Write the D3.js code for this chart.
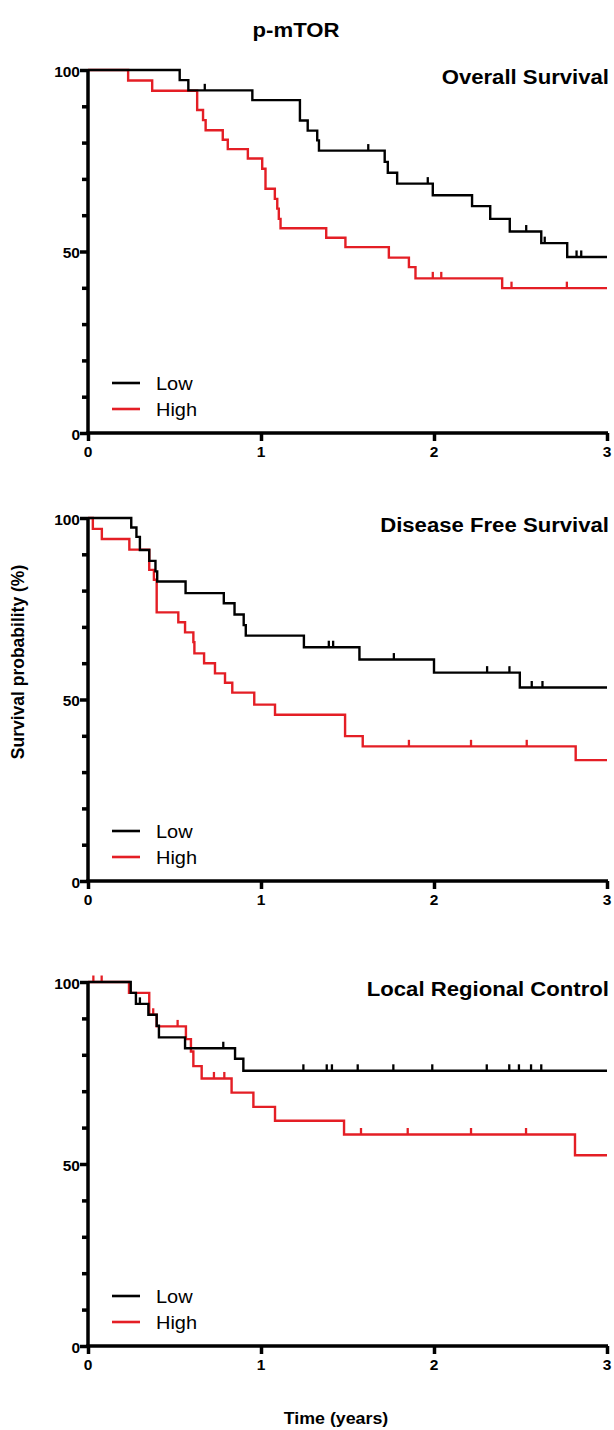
<!DOCTYPE html>
<html><head><meta charset="utf-8">
<script src="https://cdn.jsdelivr.net/npm/d3@7"></script>
<style>body{margin:0;background:#fff}svg{display:block}</style>
</head><body><svg id="c" width="614" height="1430"></svg>
<script>
// ---------- data ----------
const chartTitle = "p-mTOR";
const panelTitles = ["Overall Survival", "Disease Free Survival", "Local Regional Control"];
const groupNames = ["Low", "High"];
const xTickValues = [0, 1, 2, 3];
const yLabelTicks = [0, 50, 100];
const yAllTicks = [0, 10, 20, 30, 40, 50, 60, 70, 80, 90, 100];

// Overall survival
const osLowTime  = [0, 0.53, 0.58, 0.95, 1.225, 1.27, 1.325, 1.335, 1.715, 1.733, 1.787, 1.993, 2.22, 2.325, 2.438, 2.62, 2.77];
const osLowSurv  = [100, 97.2, 94.4, 91.7, 86.1, 83.3, 80.6, 77.8, 74.7, 71.7, 68.7, 65.5, 62.5, 59.0, 55.5, 52.3, 48.5];
const osLowCens  = [0.675, 1.62, 1.964, 2.533, 2.64, 2.824, 2.851];
const osHighTime = [0, 0.232, 0.371, 0.631, 0.665, 0.68, 0.779, 0.808, 0.924, 1.007, 1.026, 1.08, 1.094, 1.103, 1.113, 1.377, 1.488, 1.739, 1.855, 1.893, 2.394];
const osHighSurv = [100, 97.1, 94.3, 89.0, 86.2, 83.4, 80.8, 78.2, 75.6, 72.8, 67.3, 64.5, 61.8, 59.0, 56.4, 53.8, 51.2, 48.3, 45.7, 42.6, 39.9];
const osHighCens = [1.993, 2.042, 2.448, 2.768];

// Disease free survival
const dfsLowTime  = [0, 0.25, 0.28, 0.30, 0.354, 0.39, 0.40, 0.564, 0.785, 0.847, 0.90, 0.912, 1.248, 1.569, 2.0, 2.496];
const dfsLowSurv  = [100, 97.4, 94.8, 91.2, 88.2, 85.3, 82.5, 79.3, 76.5, 73.4, 70.5, 67.6, 64.4, 61.0, 57.4, 53.3];
const dfsLowCens  = [1.392, 1.417, 1.768, 2.307, 2.436, 2.565, 2.627];
const dfsHighTime = [0, 0.028, 0.08, 0.239, 0.354, 0.381, 0.397, 0.522, 0.561, 0.609, 0.615, 0.671, 0.734, 0.792, 0.834, 0.961, 1.081, 1.486, 1.588, 2.819];
const dfsHighSurv = [100, 97.0, 94.2, 91.3, 85.7, 83.0, 74.0, 71.3, 68.5, 65.8, 62.7, 60.0, 57.2, 54.6, 51.9, 48.6, 45.8, 39.9, 37.1, 33.3];
const dfsHighCens = [1.855, 2.214, 2.536];

// Local regional control
const lrcLowTime  = [0, 0.247, 0.277, 0.349, 0.397, 0.41, 0.561, 0.850, 0.898];
const lrcLowSurv  = [100, 97.0, 94.0, 91.0, 88.0, 84.8, 81.8, 78.9, 75.6];
const lrcLowCens  = [0.30, 0.782, 1.245, 1.38, 1.41, 1.559, 1.765, 1.99, 2.305, 2.435, 2.491, 2.561, 2.62];
const lrcHighTime = [0, 0.237, 0.354, 0.397, 0.566, 0.595, 0.609, 0.657, 0.83, 0.956, 1.081, 1.48, 2.815];
const lrcHighSurv = [100, 97.0, 91.0, 87.8, 84.3, 80.9, 76.9, 73.5, 69.6, 65.7, 61.9, 58.1, 52.4];
const lrcHighCens = [0.031, 0.079, 0.377, 0.518, 0.728, 0.788, 1.578, 1.848, 2.214, 2.532];

// ---------- drawing ----------
const RED = "#e41e25", BLACK = "#000";
const FONT = "Arial, 'Liberation Sans', Helvetica, sans-serif";
const svg = d3.select("#c");

function stext(sel, x, y, str, size, weight, anchor, base, sx) {
  return sel.append("text")
    .attr("transform", `translate(${x},${y}) scale(${sx || 1.08},1)`)
    .attr("text-anchor", anchor || "start")
    .attr("dominant-baseline", base || "auto")
    .style("font-family", FONT).style("font-size", size + "px")
    .style("font-weight", weight).attr("fill", "#000").text(str);
}

const left = 88, right = 607;
const panels = [
  { top: 70,  bottom: 433, title: panelTitles[0],
    series: [[osLowTime, osLowSurv, osLowCens, BLACK], [osHighTime, osHighSurv, osHighCens, RED]] },
  { top: 518, bottom: 881, title: panelTitles[1],
    series: [[dfsLowTime, dfsLowSurv, dfsLowCens, BLACK], [dfsHighTime, dfsHighSurv, dfsHighCens, RED]] },
  { top: 982, bottom: 1346, title: panelTitles[2],
    series: [[lrcLowTime, lrcLowSurv, lrcLowCens, BLACK], [lrcHighTime, lrcHighSurv, lrcHighCens, RED]] }
];

stext(svg, 296, 37, chartTitle, 20.5, "bold", "middle");

panels.forEach(p => {
  const x = d3.scaleLinear().domain([0, 3]).range([left, right]);
  const y = d3.scaleLinear().domain([0, 100]).range([p.bottom, p.top]);
  const g = svg.append("g");

  [p.series[1], p.series[0]].forEach(([t, s, c, col]) => {
    const pts = t.map((ti, i) => [ti, s[i]]);
    pts.push([3, s[s.length - 1]]);
    const line = d3.line().x(d => x(d[0])).y(d => y(d[1])).curve(d3.curveStepAfter);
    g.append("path").attr("d", line(pts)).attr("fill", "none")
      .attr("stroke", col).attr("stroke-width", 2.4);
    const survAt = tt => { let v = s[0]; for (let i = 0; i < t.length; i++) if (t[i] <= tt) v = s[i]; return v; };
    g.selectAll(null).data(c).enter().append("line")
      .attr("x1", d => x(d)).attr("x2", d => x(d))
      .attr("y1", d => y(survAt(d))).attr("y2", d => y(survAt(d)) - 6.5)
      .attr("stroke", col).attr("stroke-width", 2.3);
  });

  // y axis
  const ya = g.append("g").attr("transform", `translate(${left},0)`)
    .call(d3.axisLeft(y).tickValues(yAllTicks).tickSize(6).tickFormat(""));
  ya.select(".domain").attr("stroke-width", 3.5).attr("d", `M0,${p.bottom + 1.75}V${p.top}`);
  ya.selectAll(".tick line").attr("stroke-width", 3.5)
    .attr("x2", d => yLabelTicks.includes(d) ? -8 : -6);
  yLabelTicks.forEach(v => stext(g, left - 8, y(v) + 1, String(v), 15.5, "bold", "end", "central", 1));

  // x axis
  const xa = g.append("g").attr("transform", `translate(0,${p.bottom})`)
    .call(d3.axisBottom(x).tickValues(xTickValues).tickSize(8).tickFormat(""));
  xa.select(".domain").attr("stroke-width", 3.5).attr("d", `M${left - 1.75},0H${right + 1}`);
  xa.selectAll(".tick line").attr("stroke-width", 3.5);
  xTickValues.forEach(v => stext(g, x(v), p.bottom + 23.5, String(v), 15.5, "bold", "middle", "auto", 1));

  // panel title
  stext(g, right + 2, p.top + 14, p.title, 20.5, "bold", "end");

  // legend
  const ly = p.bottom - 50;
  [[groupNames[0], BLACK], [groupNames[1], RED]].forEach(([name, col], i) => {
    const yy = ly + i * 26;
    g.append("line").attr("x1", 112).attr("x2", 140).attr("y1", yy).attr("y2", yy)
      .attr("stroke", col).attr("stroke-width", 2.6);
    stext(g, 156, yy + 1, name, 18.5, "normal", "start", "central");
  });
});

// axis titles
stext(svg, 336, 1424, "Time (years)", 16.5, "bold", "middle");
svg.append("text").attr("transform", "translate(24,662) rotate(-90)")
  .attr("text-anchor", "middle")
  .style("font-family", FONT).style("font-size", "17.5px").style("font-weight", "bold")
  .text("Survival probability (%)");
</script></body></html>
